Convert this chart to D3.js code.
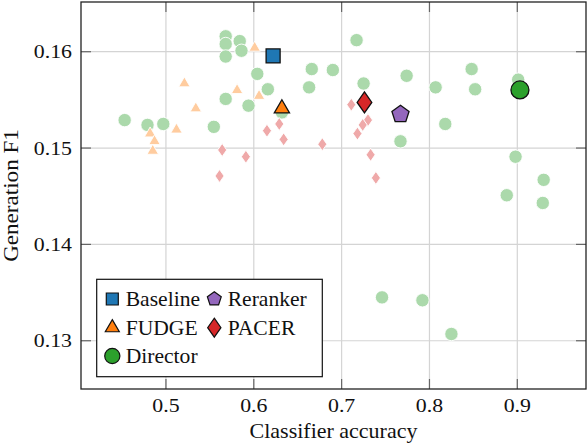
<!DOCTYPE html>
<html>
<head>
<meta charset="utf-8">
<script src="https://cdn.jsdelivr.net/npm/d3@7"></script>
<style>
  body { margin: 0; background: #fff; }
  svg { display: block; }
  svg text, text { font-family: "Liberation Serif", Times, "Times New Roman" !important; }
</style>
</head>
<body>
<svg id="chart" width="588" height="448"></svg>
<script>
// individual runs, drawn light
const directorAcc = [0.453, 0.479, 0.497, 0.5545, 0.568, 0.568, 0.584, 0.586, 0.568, 0.604, 0.616,
  0.568, 0.594, 0.632, 0.666, 0.663, 0.690, 0.717, 0.725, 0.774, 0.807, 0.848, 0.852, 0.901,
  0.818, 0.767, 0.898, 0.930, 0.888, 0.929, 0.746, 0.792, 0.825];
const directorF1 = [0.1529, 0.1524, 0.1525, 0.1522, 0.1616, 0.1608, 0.1611, 0.1601, 0.1595, 0.1577, 0.1561,
  0.1551, 0.1544, 0.1537, 0.1582, 0.1563, 0.1581, 0.1612, 0.1567, 0.1575, 0.1563, 0.1582, 0.1561, 0.1571,
  0.1525, 0.1507, 0.1491, 0.1467, 0.1451, 0.1443, 0.1345, 0.1342, 0.1307];

const fudgeAcc = [0.601, 0.521, 0.581, 0.606, 0.534, 0.512, 0.482, 0.487, 0.485];
const fudgeF1 = [0.1604, 0.1567, 0.1560, 0.1554, 0.1541, 0.1519, 0.1515, 0.1507, 0.1497];

const pacerAcc = [0.615, 0.629, 0.634, 0.564, 0.591, 0.561, 0.678, 0.711, 0.730, 0.724, 0.718, 0.733, 0.739];
const pacerF1 = [0.1518, 0.1525, 0.1509, 0.1498, 0.1491, 0.1471, 0.1504, 0.1545, 0.1529, 0.1524, 0.1515, 0.1493, 0.1469];

// headline result per method
const methodNames = ["Baseline", "Reranker", "FUDGE", "PACER", "Director"];
const methodAcc = [0.622, 0.767, 0.632, 0.726, 0.903];
const methodF1 = [0.15956, 0.15350, 0.15410, 0.15473, 0.15603];

const xTicks = [0.5, 0.6, 0.7, 0.8, 0.9];
const yTicks = [0.13, 0.14, 0.15, 0.16];

const colors = {
  Baseline: "#1f77b4", Reranker: "#9467bd", FUDGE: "#ff7f0e", PACER: "#d62728", Director: "#2ca02c"
};

// tall diamond and pentagon markers like the pgfplots ones
const symDiamond = {
  draw(ctx, size) {
    const hh = Math.sqrt(size / 0.35) / 2, hw = 0.7 * hh;
    ctx.moveTo(0, -hh); ctx.lineTo(hw, 0); ctx.lineTo(0, hh); ctx.lineTo(-hw, 0); ctx.closePath();
  }
};
const symPentagon = {
  draw(ctx, size) {
    const r = Math.sqrt(size / 2.378);
    for (let k = 0; k < 5; k++) {
      const a = -Math.PI / 2 + k * 2 * Math.PI / 5;
      if (k === 0) ctx.moveTo(r * Math.cos(a), r * Math.sin(a));
      else ctx.lineTo(r * Math.cos(a), r * Math.sin(a));
    }
    ctx.closePath();
  }
};
const shapes = {
  Baseline: d3.symbolSquare, Reranker: symPentagon, FUDGE: d3.symbolTriangle,
  PACER: symDiamond, Director: d3.symbolCircle
};
const mainSize = { Baseline: 196, Reranker: 193, FUDGE: 100, PACER: 154, Director: 254 };
const legendSize = { Baseline: 144, Reranker: 127, FUDGE: 85, PACER: 126, Director: 181 };

const W = 588, H = 448;
const margin = { top: 2, right: 2, bottom: 59, left: 81 };
const svg = d3.select("#chart");

const x = d3.scaleLinear().domain([0.4033, 0.9782]).range([margin.left, W - margin.right]);
const y = d3.scaleLinear().domain([0.12499, 0.16516]).range([H - margin.bottom, margin.top]);

const serif = '"Liberation Serif", Times';

// grid
const grid = svg.append("g").attr("stroke", "#d4d4d4").attr("stroke-width", 1.2);
grid.selectAll(".gx").data(xTicks).join("line")
  .attr("x1", d => x(d)).attr("x2", d => x(d)).attr("y1", y.range()[0]).attr("y2", y.range()[1]);
grid.selectAll(".gy").data(yTicks).join("line")
  .attr("y1", d => y(d)).attr("y2", d => y(d)).attr("x1", x.range()[0]).attr("x2", x.range()[1]);

// inward ticks on all four sides
const tl = 10;
const tk = svg.append("g").attr("stroke", "#666").attr("stroke-width", 1.2);
xTicks.forEach(d => {
  tk.append("line").attr("x1", x(d)).attr("x2", x(d)).attr("y1", y.range()[0]).attr("y2", y.range()[0] - tl);
  tk.append("line").attr("x1", x(d)).attr("x2", x(d)).attr("y1", y.range()[1]).attr("y2", y.range()[1] + tl);
});
yTicks.forEach(d => {
  tk.append("line").attr("y1", y(d)).attr("y2", y(d)).attr("x1", x.range()[0]).attr("x2", x.range()[0] + tl);
  tk.append("line").attr("y1", y(d)).attr("y2", y(d)).attr("x1", x.range()[1]).attr("x2", x.range()[1] - tl);
});

// tick labels (the reference font is a bit wider than Times, so stretch sideways)
svg.append("g").selectAll("text").data(xTicks).join("text")
  .style("font-family", serif, "important").attr("font-size", 19).attr("text-anchor", "middle").attr("fill", "#111")
  .attr("transform", d => `translate(${x(d)},${y.range()[0] + 23}) scale(1.15,1)`)
  .text(d => d3.format(".1f")(d));
svg.append("g").selectAll("text").data(yTicks).join("text")
  .style("font-family", serif, "important").attr("font-size", 19).attr("text-anchor", "end").attr("fill", "#111")
  .attr("transform", d => `translate(${x.range()[0] - 9},${y(d) + 6.5}) scale(1.15,1)`)
  .text(d => d3.format(".2f")(d));

// light run markers
const light = c => d3.interpolateRgb("#ffffff", c)(0.4);
function runs(accs, f1s, name, size) {
  svg.append("g").selectAll("path").data(accs).join("path")
    .attr("transform", (d, i) => `translate(${x(d)},${y(f1s[i])})`)
    .attr("d", d3.symbol().type(shapes[name]).size(size))
    .attr("fill", light(colors[name]))
    .attr("stroke", "#fff").attr("stroke-width", 0.9);
}
runs(directorAcc, directorF1, "Director", 141);
runs(fudgeAcc, fudgeF1, "FUDGE", 57);
runs(pacerAcc, pacerF1, "PACER", 59);

// main markers
svg.append("g").selectAll("path").data(methodNames).join("path")
  .attr("transform", (d, i) => `translate(${x(methodAcc[i])},${y(methodF1[i])})`)
  .attr("d", d => d3.symbol().type(shapes[d]).size(mainSize[d])())
  .attr("fill", d => colors[d])
  .attr("stroke", "#111").attr("stroke-width", 1.3);

// frame
svg.append("rect")
  .attr("x", x.range()[0]).attr("y", y.range()[1])
  .attr("width", x.range()[1] - x.range()[0]).attr("height", y.range()[0] - y.range()[1])
  .attr("fill", "none").attr("stroke", "#222").attr("stroke-width", 1.3);

// axis labels
svg.append("text")
  .attr("transform", `translate(${(x.range()[0] + x.range()[1]) / 2},437.5) scale(1.1,1)`)
  .style("font-family", serif, "important").attr("text-anchor", "middle").attr("font-size", 20).attr("fill", "#111")
  .text("Classifier accuracy");
svg.append("text")
  .attr("transform", `translate(18,${(y.range()[0] + y.range()[1]) / 2}) rotate(-90) scale(1.1,1)`)
  .style("font-family", serif, "important").attr("text-anchor", "middle").attr("font-size", 21).attr("fill", "#111")
  .text("Generation F1");

// legend
const lg = svg.append("g");
lg.append("rect").attr("x", 96.7).attr("y", 279.3).attr("width", 225.6).attr("height", 97.4)
  .attr("fill", "#fff").attr("stroke", "#111").attr("stroke-width", 1.2);
const legendOrder = ["Baseline", "Reranker", "FUDGE", "PACER", "Director"];
const colX = [112.3, 214.3], rowY = [299, 327.7, 356];
const item = lg.selectAll(".item").data(legendOrder).join("g")
  .attr("transform", (d, i) => `translate(${colX[i % 2]},${rowY[Math.floor(i / 2)]})`);
item.append("path")
  .attr("d", d => d3.symbol().type(shapes[d]).size(legendSize[d])())
  .attr("fill", d => colors[d]).attr("stroke", "#111").attr("stroke-width", 1.2);
item.append("text")
  .attr("transform", "translate(13.4,7) scale(1.08,1)")
  .style("font-family", serif, "important").attr("font-size", 20).attr("fill", "#111")
  .text(d => d);
</script>
</body>
</html>
